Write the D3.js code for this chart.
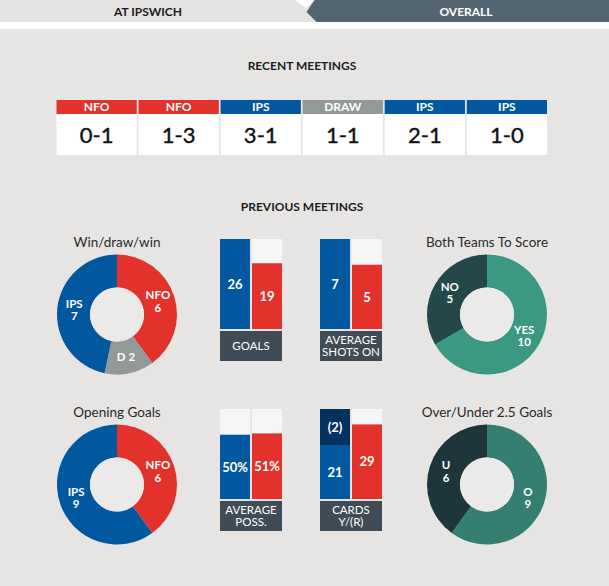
<!DOCTYPE html>
<html>
<head>
<meta charset="utf-8">
<script src="https://cdn.jsdelivr.net/npm/d3@7"></script>
<style>
  body { margin: 0; background: #e6e5e3; }
  svg { display: block; font-family: Lato, "Open Sans", sans-serif; }
</style>
</head>
<body>
<svg id="chart" width="609" height="586"></svg>
<script>
// tabs
var tabLabels = ["AT IPSWICH", "OVERALL"];

// recent meetings
var recentWinners = ["NFO", "NFO", "IPS", "DRAW", "IPS", "IPS"];
var recentScores = ["0-1", "1-3", "3-1", "1-1", "2-1", "1-0"];

// donuts
var wdwLabels = ["NFO", "D", "IPS"];
var wdwValues = [6, 2, 7];
var bttsLabels = ["YES", "NO"];
var bttsValues = [10, 5];
var openLabels = ["NFO", "IPS"];
var openValues = [6, 9];
var ouLabels = ["O", "U"];
var ouValues = [9, 6];

// bar panels (IPS, NFO)
var teams = ["IPS", "NFO"];
var goalsValues = [26, 19];
var shotsValues = [7, 5];
var possValues = [50, 51];
var cardsYellow = [21, 29];
var cardsRed = [2, 0];
var cardRedWeight = 7;
var possMax = 70;

var colors = {
    NFO: "#e3312b", IPS: "#02589f", DRAW: "#939996", D: "#939996",
    YES: "#3b9882", NO: "#24474a", O: "#357f72", U: "#1f353c"
};

let chart = d3.select("#chart");

// ---- tabs
chart.append("rect").attr("x", 0).attr("y", 0).attr("width", 609).attr("height", 22).style("fill", "#e4e3e1");
chart.append("rect").attr("x", 0).attr("y", 22).attr("width", 609).attr("height", 7).style("fill", "#ffffff");
chart.append("path")
    .attr("d", "M314.5,0L609,0L609,22L316.5,22L306.5,12Z")
    .style("fill", "#536571");
chart.append("path")
    .attr("d", "M295,0L314.5,0L306,8Z")
    .style("fill", "#ffffff");
chart.selectAll(".tab")
    .data(tabLabels)
    .enter().append("text")
    .attr("x", (d, i) => i === 0 ? 148 : 466)
    .attr("y", 11.5)
    .attr("dy", "0.35em")
    .attr("text-anchor", "middle")
    .style("font-size", "12px")
    .style("font-weight", "bold")
    .style("fill", (d, i) => i === 0 ? "#1d1d1d" : "#ffffff")
    .text(d => d);

function sectionTitle(txt, y) {
    chart.append("text")
        .attr("x", 302)
        .attr("y", y)
        .attr("dy", "0.35em")
        .attr("text-anchor", "middle")
        .style("font-size", "12px")
        .style("font-weight", "bold")
        .style("fill", "#1d1d1d")
        .text(txt);
}

// ---- recent meetings
sectionTitle("RECENT MEETINGS", 66);

let xBox = d3.scaleBand()
    .domain(d3.range(recentScores.length))
    .range([56.5, 547])
    .paddingInner(0.022);

let boxes = chart.selectAll(".box")
    .data(recentScores)
    .enter().append("g")
    .attr("transform", (d, i) => "translate(" + xBox(i) + ",0)");

boxes.append("rect")
    .attr("y", 100).attr("width", xBox.bandwidth()).attr("height", 14)
    .style("fill", (d, i) => colors[recentWinners[i]]);
boxes.append("rect")
    .attr("y", 114).attr("width", xBox.bandwidth()).attr("height", 41)
    .style("fill", "#ffffff");
boxes.append("text")
    .attr("x", xBox.bandwidth() / 2).attr("y", 107).attr("dy", "0.36em")
    .attr("text-anchor", "middle")
    .style("font-size", "12px").style("font-weight", "bold").style("fill", "#ffffff")
    .text((d, i) => recentWinners[i]);
boxes.append("text")
    .attr("x", xBox.bandwidth() / 2).attr("y", 135).attr("dy", "0.36em")
    .attr("text-anchor", "middle")
    .style("font-size", "22px").style("fill", "#111111")
    .style("stroke", "#111111").style("stroke-width", "0.4px")
    .text(d => d);

// ---- previous meetings
sectionTitle("PREVIOUS MEETINGS", 207);

function drawDonut(cx, cy, title, labels, values, twoLine) {
    let g = chart.append("g").attr("transform", "translate(" + cx + "," + cy + ")");
    let pie = d3.pie().sort(null).value(d => d)(values);
    let arc = d3.arc().innerRadius(27).outerRadius(60);
    let labelArc = d3.arc().innerRadius(43).outerRadius(43);

    g.selectAll(".slice")
        .data(pie)
        .enter().append("path")
        .attr("d", arc)
        .style("fill", (d, i) => colors[labels[i]]);

    g.append("circle").attr("r", 27).style("fill", "#ebeae8");

    g.append("text")
        .attr("y", -72.5).attr("dy", "0.35em")
        .attr("text-anchor", "middle")
        .style("font-size", "13.5px").style("fill", "#2a2a2a")
        .text(title);

    pie.forEach(function (d, i) {
        let c = labelArc.centroid(d);
        let t = g.append("text")
            .attr("text-anchor", "middle")
            .style("font-size", "11.5px").style("font-weight", "bold").style("fill", "#ffffff");
        if (twoLine[i]) {
            t.append("tspan").attr("x", c[0]).attr("y", c[1] - 6.25).attr("dy", "0.35em").text(labels[i]);
            t.append("tspan").attr("x", c[0]).attr("y", c[1] + 6.25).attr("dy", "0.35em").text(values[i]);
        } else {
            t.append("tspan").attr("x", c[0]).attr("y", c[1]).attr("dy", "0.35em").text(labels[i] + " " + values[i]);
        }
    });
}

drawDonut(117, 314.5, "Win/draw/win", wdwLabels, wdwValues, [true, false, true]);
drawDonut(487, 314.5, "Both Teams To Score", bttsLabels, bttsValues, [true, true]);
drawDonut(117, 484.5, "Opening Goals", openLabels, openValues, [true, true]);
drawDonut(487, 484.5, "Over/Under 2.5 Goals", ouLabels, ouValues, [true, true]);

function drawBars(x0, top, captionLines, values, domainMax, fmt, redCards) {
    let H = 90;
    let g = chart.append("g").attr("transform", "translate(" + x0 + "," + top + ")");
    let x = d3.scaleBand().domain(teams).range([0, 62]).paddingInner(0.0625);
    let y = d3.scaleLinear().domain([0, domainMax]).range([H, 0]);

    g.selectAll(".bg")
        .data(teams)
        .enter().append("rect")
        .attr("x", d => x(d)).attr("y", 0)
        .attr("width", x.bandwidth()).attr("height", H)
        .style("fill", "#f5f5f5");

    g.selectAll(".bar")
        .data(values)
        .enter().append("rect")
        .attr("x", (d, i) => x(teams[i])).attr("y", d => y(d))
        .attr("width", x.bandwidth()).attr("height", d => H - y(d))
        .style("fill", (d, i) => colors[teams[i]]);

    g.selectAll(".val")
        .data(values)
        .enter().append("text")
        .attr("x", (d, i) => x(teams[i]) + x.bandwidth() / 2)
        .attr("y", d => (y(d) + H) / 2).attr("dy", "0.36em")
        .attr("text-anchor", "middle")
        .style("font-size", "13px").style("font-weight", "bold").style("fill", "#ffffff")
        .text(fmt);

    if (redCards) {
        redCards.forEach(function (r, i) {
            if (!r) return;
            let base = values[i];
            let topVal = base + r * cardRedWeight;
            g.append("rect")
                .attr("x", x(teams[i])).attr("y", y(topVal))
                .attr("width", x.bandwidth()).attr("height", y(base) - y(topVal))
                .style("fill", "#03325f");
            g.append("text")
                .attr("x", x(teams[i]) + x.bandwidth() / 2)
                .attr("y", (y(base) + y(topVal)) / 2).attr("dy", "0.36em")
                .attr("text-anchor", "middle")
                .style("font-size", "13px").style("font-weight", "bold").style("fill", "#ffffff")
                .text("(" + r + ")");
        });
    }

    g.append("rect")
        .attr("x", 0).attr("y", H + 2)
        .attr("width", 62).attr("height", 30)
        .style("fill", "#404c55");

    let cap = g.append("text")
        .attr("text-anchor", "middle")
        .style("font-size", "11.5px").style("fill", "#ffffff");
    let cy = H + 17;
    captionLines.forEach(function (line, i) {
        cap.append("tspan")
            .attr("x", 31)
            .attr("y", cy + (i - (captionLines.length - 1) / 2) * 12)
            .attr("dy", "0.36em")
            .text(line);
    });
}

drawBars(220, 239, ["GOALS"], goalsValues, d3.max(goalsValues), d => d);
drawBars(320, 239, ["AVERAGE", "SHOTS ON"], shotsValues, d3.max(shotsValues), d => d);
drawBars(220, 409, ["AVERAGE", "POSS."], possValues, possMax, d => d + "%");
drawBars(320, 409, ["CARDS", "Y/(R)"], cardsYellow,
    d3.max(cardsYellow.map((v, i) => v + cardsRed[i] * cardRedWeight)), d => d, cardsRed);
</script>
</body>
</html>
